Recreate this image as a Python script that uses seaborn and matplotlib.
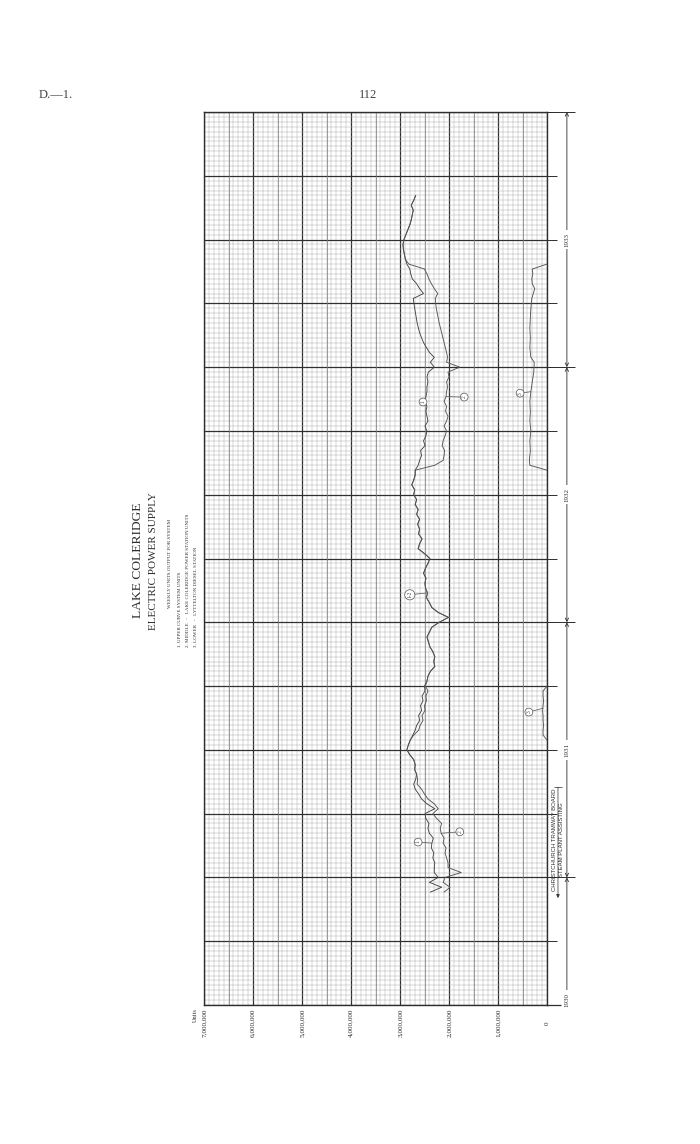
import matplotlib
matplotlib.use("Agg")
import matplotlib.pyplot as plt
import seaborn as sns
import pandas as pd

# ---------------- data ----------------
# time axis: weeks counted from 1 July 1930 (13 weeks per quarter)
weeks = list(range(23, 133)) + [133, 135, 137, 139, 142, 144] + list(range(145, 166))

# 1. upper curve - system units (millions of units per week)
system_units = [
    2.38, 2.15, 2.40, 2.22, 2.30, 2.30, 2.29, 2.33, 2.31, 2.36,
    2.35, 2.32, 2.40, 2.43, 2.41, 2.47, 2.49, 2.29, 2.45, 2.56,
    2.62, 2.69, 2.72, 2.68, 2.66, 2.70, 2.69, 2.72, 2.80, 2.86,
    2.83, 2.79, 2.74, 2.69, 2.66, 2.60, 2.62, 2.56, 2.58, 2.53,
    2.55, 2.49, 2.50, 2.45, 2.43, 2.38, 2.29, 2.31, 2.29, 2.33,
    2.39, 2.42, 2.45, 2.40, 2.35, 2.20, 2.01, 2.22, 2.35, 2.40,
    2.46, 2.44, 2.48, 2.49, 2.47, 2.52, 2.48, 2.43, 2.39, 2.50,
    2.63, 2.60, 2.55, 2.62, 2.60, 2.64, 2.60, 2.66, 2.63, 2.69,
    2.66, 2.72, 2.70, 2.76, 2.72, 2.69, 2.69, 2.63, 2.60, 2.56,
    2.58, 2.49, 2.52, 2.47, 2.45, 2.49, 2.43, 2.45, 2.47, 2.45,
    2.49, 2.47, 2.45, 2.45, 2.43, 2.45, 2.42, 2.30, 2.38, 2.30,
    2.40, 2.52, 2.60, 2.65, 2.70, 2.73,
    2.52, 2.60, 2.66, 2.75, 2.78, 2.80, 2.86, 2.89, 2.91, 2.93,
    2.94, 2.92, 2.88, 2.84, 2.80, 2.77, 2.75, 2.73, 2.77, 2.72, 2.68,
]

# 2. middle curve - Lake Coleridge power station units
coleridge_units = [
    2.10, 1.98, 2.12, 2.08, 1.75, 2.02, 2.02, 2.05, 2.08, 2.06,
    2.12, 2.10, 2.16, 2.18, 2.15, 2.25, 2.33, 2.22, 2.30, 2.43,
    2.50, 2.56, 2.65, 2.64, 2.66, 2.70, 2.69, 2.72, 2.80, 2.86,
    2.83, 2.79, 2.72, 2.62, 2.59, 2.53, 2.55, 2.49, 2.50, 2.46,
    2.47, 2.43, 2.48, 2.45, 2.43, 2.38, 2.29, 2.31, 2.29, 2.33,
    2.39, 2.42, 2.45, 2.40, 2.35, 2.20, 2.01, 2.22, 2.35, 2.40,
    2.46, 2.44, 2.48, 2.49, 2.47, 2.52, 2.48, 2.43, 2.39, 2.50,
    2.63, 2.60, 2.55, 2.62, 2.60, 2.64, 2.60, 2.66, 2.63, 2.69,
    2.66, 2.72, 2.70, 2.76, 2.72, 2.69, 2.69, 2.29, 2.12, 2.10,
    2.09, 2.14, 2.12, 2.08, 2.05, 2.10, 2.05, 2.02, 2.07, 2.05,
    2.10, 2.06, 2.05, 2.03, 2.05, 2.00, 2.02, 1.78, 2.05, 2.03,
    2.05, 2.10, 2.15, 2.20, 2.26, 2.28,
    2.23, 2.30, 2.36, 2.41, 2.45, 2.50, 2.82, 2.89, 2.91, 2.93,
    2.94, 2.92, 2.88, 2.84, 2.80, 2.77, 2.75, 2.73, 2.77, 2.72, 2.68,
]

# 3. lower curve - Lyttelton diesel station
lyttelton_weeks = [54, 55, 56, 57, 58, 59, 60, 61, 62, 63, 64, 65,
                   109, 110, 111, 113, 115, 117, 119, 121, 123, 125, 127, 129, 131,
                   132, 134, 136, 138, 140, 142, 144, 146, 147, 148, 149, 150, 151]
lyttelton_units = [0, 0.08, 0.08, 0.07, 0.08, 0.08, 0.09, 0.08, 0.07, 0.08, 0.08, 0,
                   0, 0.35, 0.36, 0.34, 0.35, 0.33, 0.35, 0.34, 0.35, 0.33, 0.30, 0.27, 0.26,
                   0.33, 0.35, 0.34, 0.35, 0.34, 0.33, 0.31, 0.25, 0.30, 0.31, 0.29, 0.30, 0]
lyttelton_run = ["1931"] * 12 + ["1932"] * 26

unit_ticks = [0, 1, 2, 3, 4, 5, 6, 7]                      # millions
unit_labels = ["0", "1,000,000", "2,000,000", "3,000,000", "4,000,000",
               "5,000,000", "6,000,000", "7,000,000"]
quarter_weeks = list(range(0, 183, 13))
year_bounds = [26, 78, 130, 182]
year_names = ["1930", "1931", "1932", "1933"]
year_label_weeks = [1, 52, 104, 156]

# ---------------- figure ----------------
sns.set_theme(style="white")
plt.rcParams["font.family"] = ["Liberation Serif", "DejaVu Serif"]
INK = "#2e2e2e"

fig = plt.figure(figsize=(7, 11.44), dpi=100)
fig.patch.set_facecolor("white")
W, H = 700.0, 1144.0
ax = fig.add_axes([204 / W, 1 - 1005 / H, 343 / W, 893 / H])

df = pd.concat([
    pd.DataFrame({"week": weeks, "units": system_units, "series": "1", "run": "a"}),
    pd.DataFrame({"week": weeks, "units": coleridge_units, "series": "2", "run": "a"}),
    pd.DataFrame({"week": lyttelton_weeks, "units": lyttelton_units, "series": "3",
                  "run": lyttelton_run}),
], ignore_index=True)

sns.lineplot(data=df, x="units", y="week", hue="series", units="run",
             estimator=None, sort=False, orient="y",
             palette={"1": "#444444", "2": "#555555", "3": "#555555"},
             linewidth=0.65, legend=False, ax=ax, zorder=5)

ax.set_xlim(7, 0)
ax.set_ylim(0, 182)
ax.set_xlabel("")
ax.set_ylabel("")

# graph-paper grid
ax.set_xticks(unit_ticks)
ax.set_xticks([i / 10 for i in range(71)], minor=True)
ax.set_yticks(quarter_weeks)
ax.set_yticks(list(range(183)), minor=True)
ax.grid(which="minor", color="#adadad", lw=0.35)
ax.grid(which="major", color="#303030", lw=0.9)
for v in [0.5, 1.5, 2.5, 3.5, 4.5, 5.5, 6.5]:
    ax.axvline(v, color="#7a7a7a", lw=0.5, zorder=0.6)
ax.set_axisbelow(True)

for s in ax.spines.values():
    s.set_color(INK)
    s.set_linewidth(1.0)

ax.set_xticklabels(unit_labels, rotation=90, va="center", ha="center",
                   fontsize=5.2, color=INK)
ax.tick_params(axis="x", which="both", length=0, pad=13, bottom=True, top=False)
ax.yaxis.set_ticks_position("right")
ax.tick_params(axis="y", which="major", right=True, left=False, direction="out",
               length=7, width=0.7, color=INK, labelright=False, labelleft=False)
ax.tick_params(axis="y", which="minor", length=0)

fig.text(195 / W, 1 - 1015 / H, "Units", rotation=90, ha="center", va="center",
         fontsize=4.6, color=INK)

# year dimension lines on the right
ytr = ax.get_yaxis_transform()
ax.hlines(year_bounds, 1.0, 1.082, transform=ytr, clip_on=False, color=INK, lw=0.7)
ax.hlines([0], 1.0, 1.04, transform=ytr, clip_on=False, color=INK, lw=0.9)
arrow_kw = dict(color=INK, lw=0.6, mutation_scale=6, shrinkA=0, shrinkB=0)
ax.annotate("", xy=(1.058, year_bounds[0]), xytext=(1.058, 0), xycoords=ytr,
            textcoords=ytr, annotation_clip=False,
            arrowprops=dict(arrowstyle="->", **arrow_kw))
for lo, hi in zip(year_bounds[:-1], year_bounds[1:]):
    ax.annotate("", xy=(1.058, hi), xytext=(1.058, lo), xycoords=ytr,
                textcoords=ytr, annotation_clip=False,
                arrowprops=dict(arrowstyle="<->", **arrow_kw))
for name, wk in zip(year_names, year_label_weeks):
    ax.text(1.058, wk, name, transform=ytr, rotation=90, ha="center", va="center",
            fontsize=5, color=INK, clip_on=False,
            bbox=dict(boxstyle="square,pad=0.4", fc="white", ec="none"))

# steam plant period
ax.annotate("", xy=(1.032, 21.8), xytext=(1.032, 44.4), xycoords=ytr,
            textcoords=ytr, annotation_clip=False,
            arrowprops=dict(arrowstyle="-|>", color=INK, lw=0.5, mutation_scale=5,
                            shrinkA=0, shrinkB=0))
ax.hlines([44.4], 1.02, 1.044, transform=ytr, clip_on=False, color=INK, lw=0.5)
ax.text(1.022, 33.6, "CHRISTCHURCH TRAMWAY BOARD", transform=ytr, rotation=90,
        ha="center", va="center", fontsize=4.3, color=INK, family="Liberation Sans",
        clip_on=False)
ax.text(1.042, 33.6, "STEAM PLANT ASSISTING", transform=ytr, rotation=90,
        ha="center", va="center", fontsize=4.3, color=INK, family="Liberation Sans",
        clip_on=False)

# circled curve numbers
circ = dict(boxstyle="circle,pad=0.25", fc="white", ec="#555555", lw=0.5)
lead = dict(arrowstyle="-", color="#555555", lw=0.5, shrinkA=0, shrinkB=0)
for txt, tx, ty, px, py in [
    ("1", 2.63, 33.2, 2.35, 33),
    ("2", 1.78, 35.3, 2.16, 35),
    ("1-2", 2.80, 83.6, 2.44, 84),
    ("1", 2.53, 122.9, 2.49, 123),
    ("2", 1.69, 123.9, 2.06, 124),
    ("3", 0.55, 124.7, 0.33, 125),
    ("3", 0.37, 59.7, 0.08, 60.5),
]:
    ax.annotate(txt, xy=(px, py), xytext=(tx, ty), rotation=90, ha="center",
                va="center", fontsize=4.0, color="#444444", bbox=circ,
                arrowprops=lead, zorder=6)

# title block
def pt(x, y):
    return x / W, 1 - y / H

fig.text(*pt(138, 560), "LAKE COLERIDGE", rotation=90, ha="center", va="center",
         fontsize=9.7, color=INK)
fig.text(*pt(154, 561), "ELECTRIC POWER SUPPLY", rotation=90, ha="center",
         va="center", fontsize=8.0, color=INK)
fig.text(*pt(170, 563), "WEEKLY UNITS OUTPUT FOR SYSTEM", rotation=90, ha="center",
         va="center", fontsize=3.6, color=INK)
for xx, line in [(180, "1. UPPER CURVE SYSTEM UNITS"),
                 (188, "2. MIDDLE   -   LAKE COLERIDGE POWER STATION UNITS"),
                 (196, "3. LOWER   -   LYTTELTON DIESEL STATION")]:
    fig.text(*pt(xx, 647), line, rotation=90, ha="center", va="bottom",
             fontsize=3.6, color=INK)

# page header
fig.text(*pt(39, 95), "D.—1.", ha="left", va="center", fontsize=9, color="#444444")
fig.text(*pt(368, 95), "112", ha="center", va="center", fontsize=9, color="#444444")

fig.savefig("out.png", dpi=100, facecolor="white")
